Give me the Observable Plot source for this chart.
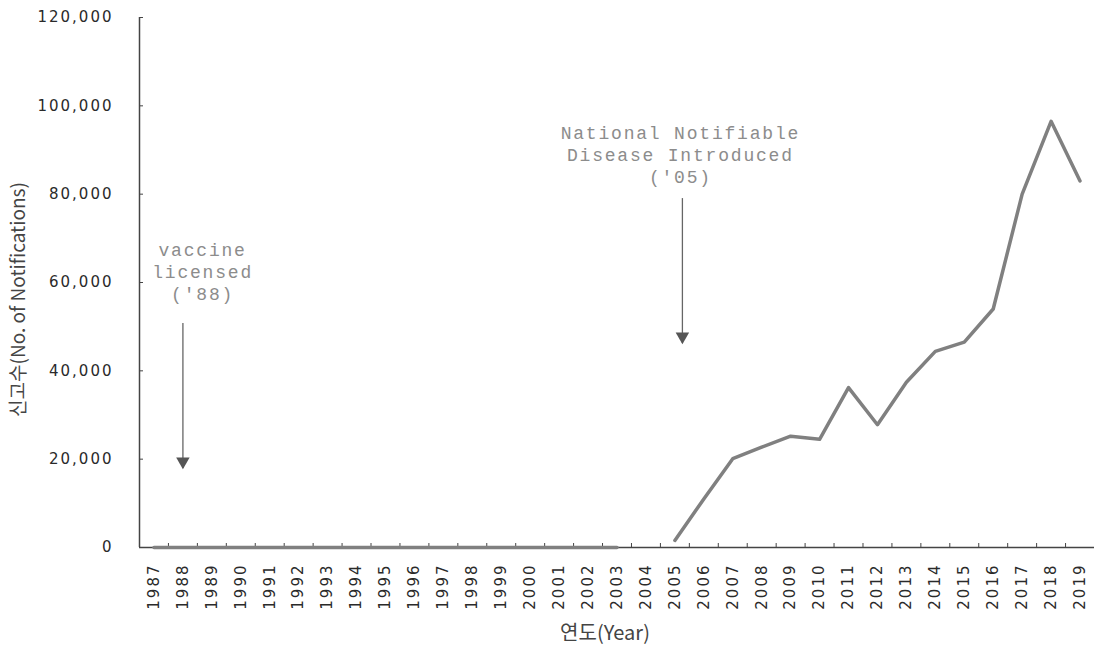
<!DOCTYPE html>
<html><head><meta charset="utf-8">
<script src="https://cdn.jsdelivr.net/npm/d3@7"></script>
<script src="https://cdn.jsdelivr.net/npm/@observablehq/plot@0.6"></script>
<style>
html,body{margin:0;padding:0;background:#fff;}
#chart g[aria-label="x-axis tick label"] text,
#chart g[aria-label="y-axis tick label"] text{letter-spacing:2px;}
#chart g[font-family="Liberation Mono"] text{letter-spacing:1.8px;}
</style></head><body><div id="chart"></div>
<script>
const years = [1987,1988,1989,1990,1991,1992,1993,1994,1995,1996,1997,1998,1999,2000,2001,2002,2003,2004,2005,2006,2007,2008,2009,2010,2011,2012,2013,2014,2015,2016,2017,2018,2019];
const notifications = [0,0,0,0,0,0,0,0,0,0,0,0,0,0,0,0,0,null,1600,11000,20100,22700,25200,24500,36200,27800,37400,44400,46500,54000,80000,96500,83000];
const yTicks = [0,20000,40000,60000,80000,100000,120000];
const annLabels = ["vaccine\nlicensed\n('88)", "National Notifiable\nDisease Introduced\n('05)"];
const annTextYear = [1988.68, 2005.19];
const annTextValue = [62700, 89200];
const annArrowYear = [1988, 2005.26];
const annArrowFrom = [50700, 79000];
const annArrowTo = [17900, 46200];

const data = years.map((year, i) => ({year, value: notifications[i]}));
const anns = annLabels.map((label, i) => ({label, tx: annTextYear[i], ty: annTextValue[i], ax: annArrowYear[i], from: annArrowFrom[i], to: annArrowTo[i]}));
const boundaries = years.map(y => y + 0.5);
const axisColor = "#444";

const chart = Plot.plot({
  width: 1094, height: 648,
  marginLeft: 139, marginRight: 0, marginTop: 17, marginBottom: 101,
  style: {fontFamily: "DejaVu Sans", fontSize: "15px", color: "#2a2a2a", background: "#fff"},
  x: {type: "linear", domain: [years[0] - 0.5, years[years.length - 1] + 0.5]},
  y: {domain: [0, 120000]},
  marks: [
    Plot.axisX({ticks: years, tickSize: 0, tickPadding: 16, tickRotate: -90, tickFormat: d => String(d), label: null}),
    Plot.axisY({ticks: yTicks, tickSize: 0, tickPadding: 26, tickFormat: d3.format(","), label: null}),
    Plot.tickX(boundaries, {x: d => d, insetTop: 526, stroke: axisColor}),
    Plot.tickY(yTicks, {y: d => d, insetRight: 951, stroke: axisColor}),
    Plot.ruleX([years[0] - 0.5], {stroke: axisColor, strokeWidth: 1.5}),
    Plot.ruleY([0], {stroke: axisColor, strokeWidth: 1.5}),
    Plot.line(data, {x: "year", y: "value", stroke: "#808080", strokeWidth: 3.5}),
    Plot.ruleX(anns, {x: "ax", y1: "from", y2: "to", stroke: "#666", strokeWidth: 1.3}),
    Plot.dot(anns, {x: "ax", y: "to", symbol: "triangle", r: 5, rotate: 180, dy: -7, fill: "#555", stroke: null}),
    Plot.text(anns, {x: "tx", y: "ty", text: "label", fontFamily: "Liberation Mono", fontSize: 18, lineHeight: 1.22, fill: "#8c8c8c"}),
    Plot.text(["연도(Year)"], {frameAnchor: "bottom", textAnchor: "middle", lineAnchor: "middle", dx: -12, dy: 86, fontFamily: "Noto Sans CJK KR", fontSize: 20, fill: "#444"}),
    Plot.text(["신고수(No. of Notifications)"], {frameAnchor: "left", textAnchor: "middle", lineAnchor: "middle", dx: -121, dy: 17, rotate: -90, fontFamily: "Noto Sans CJK KR", fontSize: 19, fill: "#444"})
  ]
});
document.getElementById("chart").append(chart);
</script>
</body></html>
